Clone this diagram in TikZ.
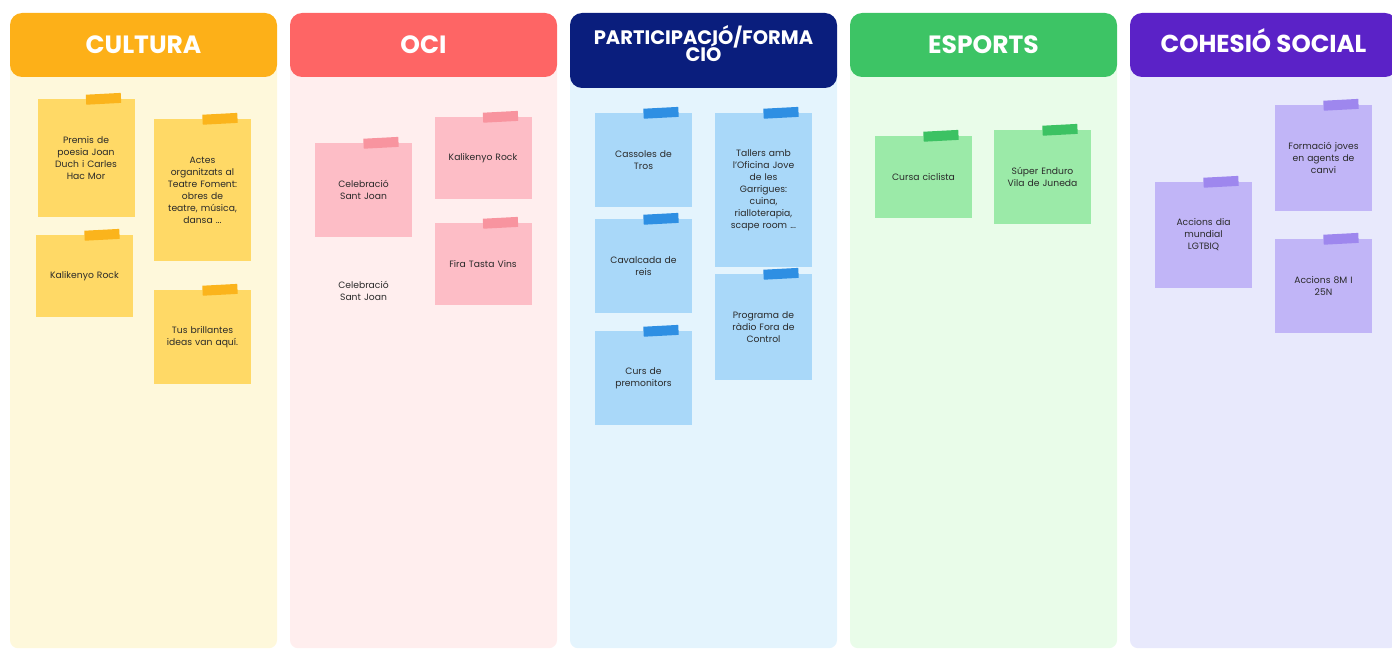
\documentclass[tikz,border=0pt]{standalone}
\usepackage{fontspec}
\setmainfont{Poppins}
\usetikzlibrary{positioning}

\definecolor{culHead}{HTML}{FDB018}
\definecolor{culBody}{HTML}{FEF8DB}
\definecolor{culNote}{HTML}{FFD966}
\definecolor{culTape}{HTML}{FBB41C}
\definecolor{ociHead}{HTML}{FE6565}
\definecolor{ociBody}{HTML}{FFEEEE}
\definecolor{ociNote}{HTML}{FDBDC6}
\definecolor{ociTape}{HTML}{F8949F}
\definecolor{parHead}{HTML}{0A1E7D}
\definecolor{parBody}{HTML}{E4F4FD}
\definecolor{parNote}{HTML}{A9D8F9}
\definecolor{parTape}{HTML}{2E8FE3}
\definecolor{espHead}{HTML}{3DC465}
\definecolor{espBody}{HTML}{E9FCE9}
\definecolor{espNote}{HTML}{9BEAA8}
\definecolor{espTape}{HTML}{3CC263}
\definecolor{cohHead}{HTML}{5B22C7}
\definecolor{cohBody}{HTML}{E8E9FC}
\definecolor{cohNote}{HTML}{C1B5F7}
\definecolor{cohTape}{HTML}{9E87EE}
\definecolor{noteText}{HTML}{2A2A2A}

\begin{document}
\begin{tikzpicture}[x=1pt, y=-1pt]
    \tikzset{colbody/.style = {shape=rectangle, rounded corners=8pt, minimum width=267pt, minimum height=588pt, anchor=north, inner sep=0pt}}
    \tikzset{colhead/.style = {shape=rectangle, rounded corners=12pt, minimum width=267pt, minimum height=64pt, text=white, font=\bfseries\fontsize{25}{26}\selectfont, inner sep=0pt}}
    \tikzset{note/.style = {shape=rectangle, minimum width=97pt, text width=92pt, align=center, inner sep=0pt, text=noteText, font=\fontsize{9.2}{12}\selectfont}}
    \tikzset{tape/.style = {shape=rectangle, minimum width=35pt, minimum height=10pt, inner sep=0pt, rotate=3}}

    \useasboundingbox (0,0) rectangle (1392,650);
    \clip (0,0) rectangle (1392,650);

    % columns
    \node[colbody, fill=culBody] (bCul) at (143.5,60) {};
    \node[colbody, fill=ociBody] (bOci) at (423.5,60) {};
    \node[colbody, fill=parBody] (bPar) at (703.5,60) {};
    \node[colbody, fill=espBody] (bEsp) at (983.5,60) {};
    \node[colbody, fill=cohBody] (bCoh) at (1263.5,60) {};

    \node[colhead, fill=culHead] (hCul) at (143.5,45) {CULTURA};
    \node[colhead, fill=ociHead] (hOci) at (423.5,45) {OCI};
    \node[colhead, fill=parHead, minimum height=75pt] (hPar) at (703.5,50.5) {};
    \node[text=white, font=\bfseries\fontsize{19.5}{17}\selectfont, anchor=base] (tPar1) at (703.5,45) {PARTICIPACIÓ/FORMA};
    \node[text=white, font=\bfseries\fontsize{19.5}{17}\selectfont, anchor=base] (tPar2) at (703.5,62) {CIÓ};
    \node[colhead, fill=espHead] (hEsp) at (983.5,45) {ESPORTS};
    \node[colhead, fill=cohHead] (hCoh) at (1263.5,45) {};
    \node[text=white, font=\bfseries\fontsize{24.5}{26}\selectfont, anchor=base] (tCoh) at (1263.5,53) {COHESIÓ SOCIAL};

    % cultura
    \node[note, fill=culNote, minimum height=118pt] (premis) at (86,158) {Premis de\\poesia Joan\\Duch i Carles\\Hac Mor};
    \node[note, fill=culNote, minimum height=142pt] (actes) at (202.5,190) {Actes\\organitzats al\\Teatre Foment:\\obres de\\teatre, música,\\dansa ...};
    \node[note, fill=culNote, minimum height=82pt] (kaliCul) at (84.5,276) {Kalikenyo Rock};
    \node[note, fill=culNote, minimum height=94pt] (ideas) at (202.5,337) {Tus brillantes\\ideas van aquí.};
    \node[tape, fill=culTape] (tPremis) at ([xshift=17.5pt]premis.north) {};
    \node[tape, fill=culTape] (tActes) at ([xshift=17.5pt]actes.north) {};
    \node[tape, fill=culTape] (tKaliCul) at ([xshift=17.5pt]kaliCul.north) {};
    \node[tape, fill=culTape] (tIdeas) at ([xshift=17.5pt]ideas.north) {};

    % oci
    \node[note, fill=ociNote, minimum height=94pt] (santJoan) at (363.5,190) {Celebració\\Sant Joan};
    \node[note, fill=ociNote, minimum height=82pt] (kaliOci) at (483,158) {Kalikenyo Rock};
    \node[note, fill=ociNote, minimum height=82pt] (fira) at (483,264) {Fira Tasta Vins};
    \node[note] (santJoanB) at (363.5,291) {Celebració\\Sant Joan};
    \node[tape, fill=ociTape] (tSantJoan) at ([xshift=17.5pt]santJoan.north) {};
    \node[tape, fill=ociTape] (tKaliOci) at ([xshift=17.5pt]kaliOci.north) {};
    \node[tape, fill=ociTape] (tFira) at ([xshift=17.5pt]fira.north) {};

    % participacio / formacio
    \node[note, fill=parNote, minimum height=94pt] (cassoles) at (643.5,160) {Cassoles de\\Tros};
    \node[note, fill=parNote, minimum height=94pt] (cavalcada) at (643.5,266) {Cavalcada de\\reis};
    \node[note, fill=parNote, minimum height=94pt] (curs) at (643.5,378) {Curs de\\premonitors};
    \node[note, fill=parNote, minimum height=154pt] (tallers) at (763.5,190) {Tallers amb\\l'Oficina Jove\\de les\\Garrigues:\\cuina,\\rialloterapia,\\scape room ...};
    \node[note, fill=parNote, minimum height=106pt] (radio) at (763.5,327) {Programa de\\ràdio Fora de\\Control};
    \node[tape, fill=parTape] (tCassoles) at ([xshift=17.5pt]cassoles.north) {};
    \node[tape, fill=parTape] (tCavalcada) at ([xshift=17.5pt]cavalcada.north) {};
    \node[tape, fill=parTape] (tCurs) at ([xshift=17.5pt]curs.north) {};
    \node[tape, fill=parTape] (tTallers) at ([xshift=17.5pt]tallers.north) {};
    \node[tape, fill=parTape] (tRadio) at ([xshift=17.5pt]radio.north) {};

    % esports
    \node[note, fill=espNote, minimum height=82pt] (cursa) at (923.5,177) {Cursa ciclista};
    \node[note, fill=espNote, minimum height=94pt] (enduro) at (1042.5,177) {Súper Enduro\\Vila de Juneda};
    \node[tape, fill=espTape] (tCursa) at ([xshift=17.5pt]cursa.north) {};
    \node[tape, fill=espTape] (tEnduro) at ([xshift=17.5pt]enduro.north) {};

    % cohesio social
    \node[note, fill=cohNote, minimum height=106pt] (lgtbiq) at (1203.5,235) {Accions dia\\mundial\\LGTBIQ};
    \node[note, fill=cohNote, minimum height=106pt] (agents) at (1323.5,158) {Formació joves\\en agents de\\canvi};
    \node[note, fill=cohNote, minimum height=94pt] (accions) at (1323.5,286) {Accions 8M I\\25N};
    \node[tape, fill=cohTape] (tLgtbiq) at ([xshift=17.5pt]lgtbiq.north) {};
    \node[tape, fill=cohTape] (tAgents) at ([xshift=17.5pt]agents.north) {};
    \node[tape, fill=cohTape] (tAccions) at ([xshift=17.5pt]accions.north) {};
\end{tikzpicture}
\end{document}
